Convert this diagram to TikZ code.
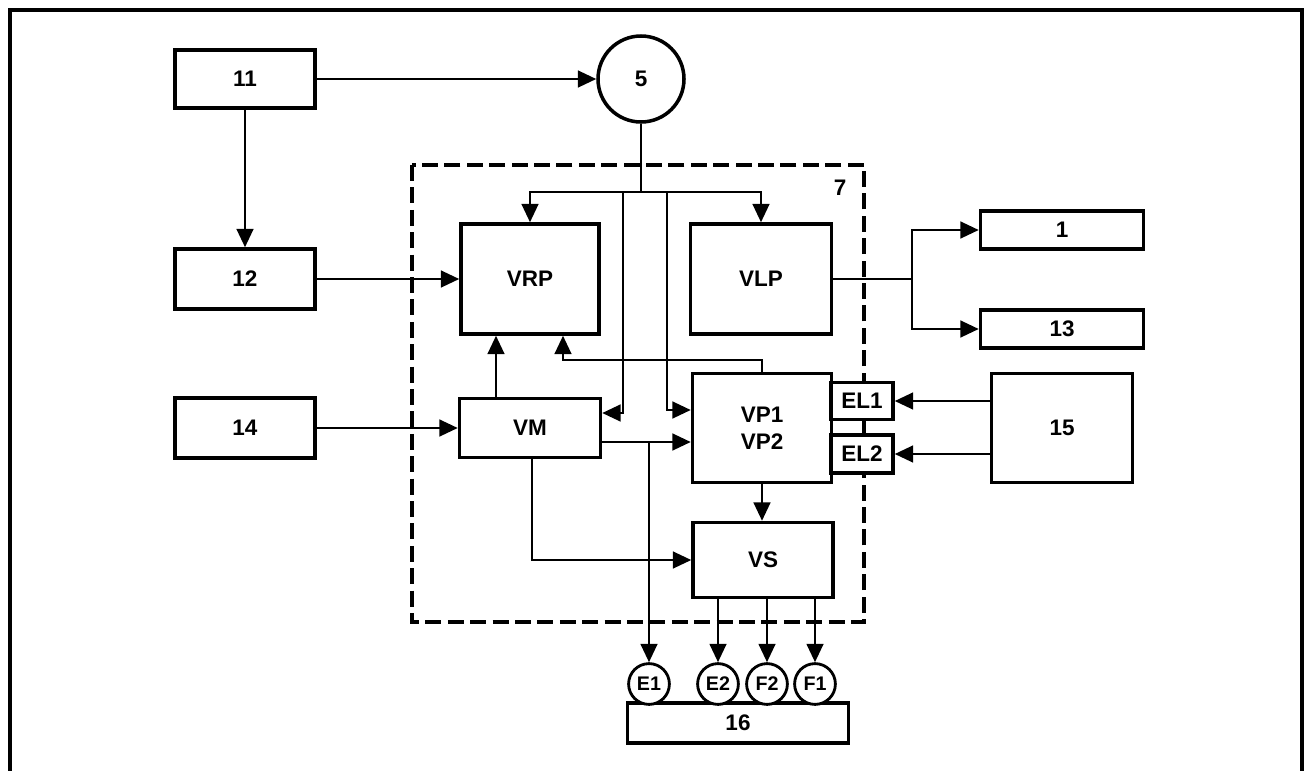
\documentclass[tikz,border=0pt]{standalone}
\usepackage{fontspec}
\setmainfont{Liberation Sans}
\usetikzlibrary{arrows.meta,calc}

\begin{document}
\begin{tikzpicture}[x=0.25mm,y=-0.25mm,
	blk/.style={draw,fill=white,line width=2.5pt,inner sep=0pt,align=center,font=\fontsize{16}{19}\selectfont\bfseries},
	port/.style={draw,fill=white,circle,line width=2pt,inner sep=0pt,minimum size=10.2mm,font=\fontsize{14}{16}\selectfont\bfseries},
	arr/.style={line width=1.6pt,-{Triangle[length=4.6mm,width=4.2mm]}},
	wire/.style={line width=1.6pt}]
	\useasboundingbox (0,0) rectangle (1308,770);
	% Frame
	\draw[ line width=2.6pt ] (10,775) -- (10,10) -- (1302,10) -- (1302,775);
	% Unit 7
	\draw[ line width=2.4pt, dash pattern=on 4mm off 1.6mm ] (412,165) rectangle (864,622);
	\node[ font=\fontsize{16}{19}\selectfont\bfseries ] (lab7) at (840,188) {7};
	% Left column
	\node[ blk, minimum width=35mm, minimum height=14.5mm ] (b11) at (245,79) {11};
	\node[ blk, minimum width=35mm, minimum height=15mm ] (b12) at (245,279) {12};
	\node[ blk, minimum width=35mm, minimum height=15mm ] (b14) at (245,428) {14};
	% Source 5
	\node[ blk, circle, minimum size=21.5mm ] (c5) at (641,79) {5};
	% Inner blocks
	\node[ blk, minimum width=34.5mm, minimum height=27.5mm ] (vrp) at (530,279) {VRP};
	\node[ blk, minimum width=35.25mm, minimum height=27.5mm ] (vlp) at (761,279) {VLP};
	\node[ blk, minimum width=35.25mm, minimum height=14.75mm ] (vm) at (530,428) {VM};
	\node[ blk, minimum width=34.75mm, minimum height=27.25mm ] (vp) at (762,428) {VP1\\VP2};
	\node[ blk, minimum width=15.5mm, minimum height=9.25mm ] (el1) at (862,401) {EL1};
	\node[ blk, minimum width=15.5mm, minimum height=9.5mm ] (el2) at (862,454) {EL2};
	\node[ blk, minimum width=35mm, minimum height=18.75mm ] (vs) at (763,560) {VS};
	% Right column
	\node[ blk, minimum width=40.75mm, minimum height=9.5mm ] (b1) at (1062,230) {1};
	\node[ blk, minimum width=40.75mm, minimum height=9.5mm ] (b13) at (1062,329) {13};
	\node[ blk, minimum width=35.25mm, minimum height=27.25mm ] (b15) at (1062,428) {15};
	% Output 16
	\node[ blk, minimum width=55.25mm, minimum height=10mm ] (b16) at (738,723) {16};
	\node[ port ] (e1) at (649,684) {E1};
	\node[ port ] (e2) at (718,684) {E2};
	\node[ port ] (f2) at (767,684) {F2};
	\node[ port ] (f1) at (815,684) {F1};
	% Connections from 11
	\draw[ arr ] (b11) -- (c5);
	\draw[ arr ] (b11) -- (b12);
	\draw[ arr ] (b12.east) -- (b12.east -| vrp.west);
	\draw[ arr ] (b14.east) -- (b14.east -| vm.west);
	% Distribution from 5
	\coordinate (split) at (641,192);
	\coordinate (tapm) at (623,192);
	\coordinate (tapp) at (667,192);
	\draw[ wire ] (c5) -- (split);
	\draw[ arr ] (split) -| (vrp.north);
	\draw[ arr ] (split) -| (vlp.north);
	\draw[ arr ] (tapm) |- ($(vm.east)+(0,-15)$);
	\draw[ arr ] (tapp) |- ($(vp.west)+(0,-18)$);
	% VM outputs
	\coordinate (tape) at ($(vm.east |- e1)+(0,-242)$);
	\draw[ arr ] ($(vm.east)+(0,14)$) -- ($(vp.west)+(0,14)$);
	\draw[ arr ] (e1 |- tape) -- (e1);
	\draw[ arr ] ($(vm.south)+(2,0)$) |- (vs.west);
	\draw[ arr ] ($(vm.north)+(-34,0)$) -- ($(vrp.south)+(-34,0)$);
	% VP feedback and VS
	\draw[ arr ] (vp.north) -- ++(0,-12) -| ($(vrp.south)+(33,0)$);
	\draw[ arr ] (vp.south) -- (vp.south |- vs.north);
	% VLP outputs
	\coordinate (fork) at (912,279);
	\draw[ wire ] (vlp.east) -- (fork);
	\draw[ arr ] (fork) |- (b1.west);
	\draw[ arr ] (fork) |- (b13.west);
	% 15 to EL1, EL2
	\draw[ arr ] (b15.west |- el1) -- (el1.east);
	\draw[ arr ] (b15.west |- el2) -- (el2.east);
	% VS to ports
	\draw[ arr ] (vs.south -| e2) -- (e2);
	\draw[ arr ] (vs.south -| f2) -- (f2);
	\draw[ arr ] (vs.south -| f1) -- (f1);
\end{tikzpicture}
\end{document}
